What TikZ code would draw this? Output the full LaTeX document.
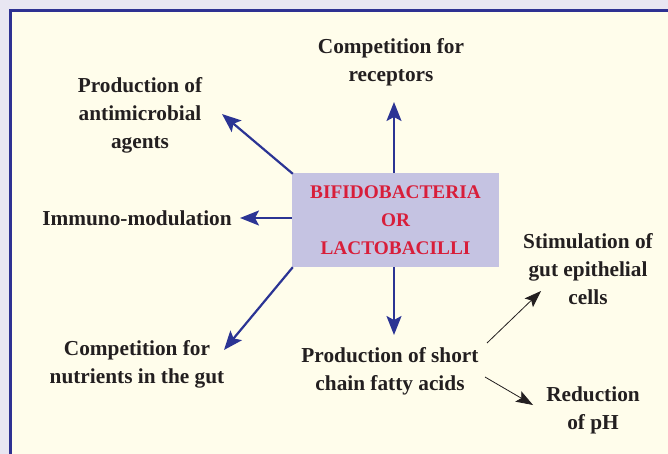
\documentclass[tikz,border=0pt]{standalone}
\usepackage{fontspec}
\setmainfont{Liberation Serif}
\usetikzlibrary{arrows.meta}
\definecolor{bgout}{HTML}{E8E6F2}
\definecolor{cream}{HTML}{FFFDEB}
\definecolor{frameblue}{HTML}{2E3192}
\definecolor{boxfill}{HTML}{C5C3E2}
\definecolor{boxred}{HTML}{D81E3A}
\definecolor{arrblue}{HTML}{2B3494}
\definecolor{ink}{HTML}{231F20}
\tikzset{
  lbl/.style={align=center, text=ink, font=\fontsize{21.3}{28}\selectfont\bfseries, inner sep=0pt},
  mainbox/.style={fill=boxfill, minimum width=207pt, minimum height=94pt, align=center,
    text=boxred, font=\fontsize{19.3}{28}\selectfont\bfseries, inner sep=0pt},
  bluearrow/.style={draw=arrblue, line width=2.2pt, -{Stealth[length=19pt,width=15pt,inset=4pt]}},
  blackarrow/.style={draw=ink, line width=0.8pt, -{Stealth[length=17pt,width=12pt,inset=3.5pt]}}
}
\begin{document}
\begin{tikzpicture}[x=1pt,y=-1pt]
\useasboundingbox (0,0) rectangle (668,454);
\fill[bgout] (0,0) rectangle (668,454);
\fill[cream] (10.5,10.5) rectangle (670,456);
\draw[frameblue, line width=2.8pt] (670,10.5) -- (10.5,10.5) -- (10.5,456);

\node[mainbox] (box) at (395.5,220) {BIFIDOBACTERIA\\OR\\LACTOBACILLI};

\node[lbl] (rec) at (391,62) {Competition for\\receptors};
\node[lbl] (anti) at (140,115) {Production of\\antimicrobial\\agents};
\node[lbl] (imm) at (137,218) {Immuno-modulation};
\node[lbl] (nut) at (137,364) {Competition for\\nutrients in the gut};
\node[lbl] (scfa) at (390,371) {Production of short\\chain fatty acids};
\node[lbl] (stim) at (588,269) {Stimulation of\\gut epithelial\\cells};
\node[lbl] (ph) at (593,410) {Reduction\\of pH};

\coordinate (trec) at (394,102);
\coordinate (tanti) at (222,114);
\coordinate (timm) at (240,218);
\coordinate (tnut) at (224,350);
\coordinate (tscfa) at (394,335);
\coordinate (sstim) at (487,343);
\coordinate (tstim) at (541,291);
\coordinate (sph) at (485,377);
\coordinate (tph) at (533,405);

\draw[bluearrow] (box.north -| trec) -- (trec);
\draw[bluearrow] (box.north west) ++(1,1) -- (tanti);
\draw[bluearrow] (box.west |- timm) -- (timm);
\draw[bluearrow] (box.south west) ++(1,0) -- (tnut);
\draw[bluearrow] (box.south -| tscfa) -- (tscfa);
\draw[blackarrow] (sstim) -- (tstim);
\draw[blackarrow] (sph) -- (tph);
\end{tikzpicture}
\end{document}
